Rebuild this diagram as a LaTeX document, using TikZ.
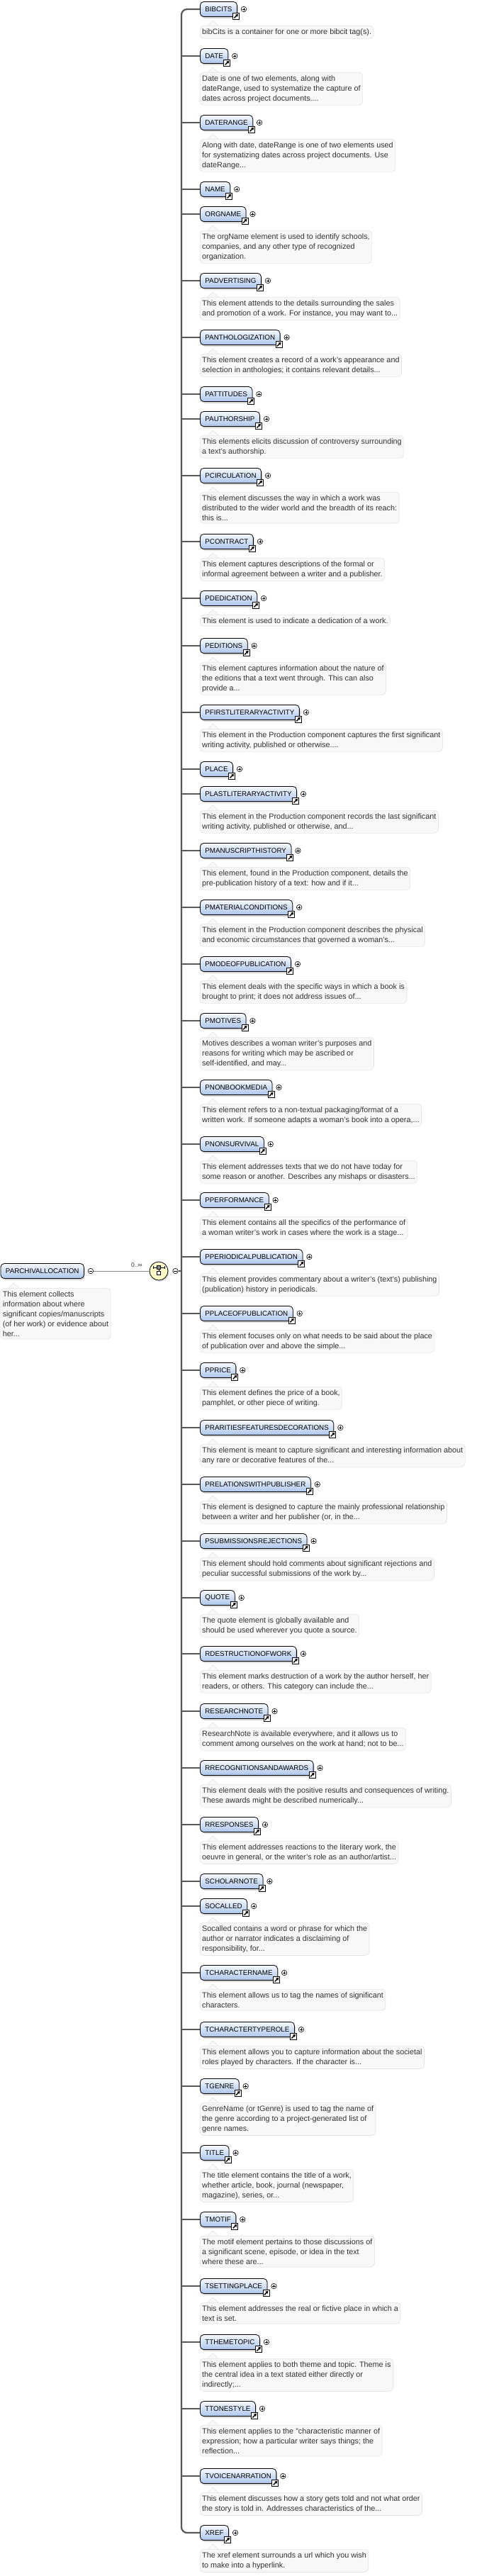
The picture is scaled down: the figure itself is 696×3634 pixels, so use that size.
\documentclass[tikz,border=0pt]{standalone}
\usepackage{fontspec}
\setmainfont{Liberation Sans}
\usetikzlibrary{shadows,arrows.meta}
\definecolor{elemtop}{RGB}{246,249,254}
\definecolor{elembot}{RGB}{172,197,236}
\definecolor{docfill}{RGB}{248,248,248}
\definecolor{docline}{RGB}{216,216,216}
\definecolor{doctext}{RGB}{50,50,50}
\definecolor{wire}{RGB}{88,88,88}
\definecolor{choicefill}{RGB}{255,250,200}
\begin{document}
\begin{tikzpicture}[x=1pt, y=1pt,
  elem/.style={draw, line width=0.8pt, rounded corners=5pt, top color=elemtop, bottom color=elembot, drop shadow={shadow xshift=1.5pt, shadow yshift=-2.5pt, fill=black!30}, anchor=west, minimum height=21pt, inner xsep=7pt, font=\fontsize{9.8pt}{12pt}\selectfont},
  ref/.style={elem, label={[linkicon, anchor=center, xshift=-2pt, yshift=1pt]south east:{}}, label={[pluscirc, xshift=5pt]east:{}}},
  linkicon/.style={draw, fill=white, line width=0.7pt, sharp corners, minimum size=9pt, inner sep=0pt, path picture={\draw[line width=1.4pt, -{Triangle[length=3.5pt, width=4.2pt]}] ([shift={(2pt,2pt)}]path picture bounding box.south west) -- ([shift={(-1.4pt,-1.4pt)}]path picture bounding box.north east);}},
  pluscirc/.style={circle, draw, fill=white, line width=0.6pt, minimum size=7.5pt, inner sep=0pt, path picture={\draw[line width=0.6pt] ([xshift=-2.2pt]path picture bounding box.center) -- ([xshift=2.2pt]path picture bounding box.center) ([yshift=-2.2pt]path picture bounding box.center) -- ([yshift=2.2pt]path picture bounding box.center);}},
  minuscirc/.style={circle, draw, fill=white, line width=0.6pt, minimum size=7.5pt, inner sep=0pt, path picture={\draw[line width=0.6pt] ([xshift=-2.2pt]path picture bounding box.center) -- ([xshift=2.2pt]path picture bounding box.center);}},
  desc/.style={draw=docline, fill=docfill, rounded corners=5pt, align=left, anchor=north west, text=doctext, inner xsep=3pt, inner ysep=4pt, font=\fontsize{10.8pt}{14pt}\selectfont,
    append after command={\pgfextra{
      \fill[docfill, sharp corners] ([xshift=11pt, yshift=-0.7pt]\tikzlastnode.north west) -- ++(7.5pt,7pt) -- ++(7.5pt,-7pt) -- cycle;
      \draw[docline, sharp corners] ([xshift=11pt]\tikzlastnode.north west) -- ++(7.5pt,7pt) -- ++(7.5pt,-7pt);}}},
  choicenode/.style={circle, draw, line width=0.8pt, fill=choicefill, minimum size=26pt, inner sep=0pt, drop shadow={shadow xshift=1.5pt, shadow yshift=-2pt, fill=black!30},
    path picture={
      \draw[line width=0.7pt] ([shift={(-8pt,5pt)}]path picture bounding box.center) -- ([shift={(8pt,5pt)}]path picture bounding box.center);
      \draw[line width=0.7pt] ([shift={(-8pt,3.3pt)}]path picture bounding box.center) -- ([shift={(-8pt,6.7pt)}]path picture bounding box.center);
      \draw[line width=0.7pt] ([shift={(8pt,3.3pt)}]path picture bounding box.center) -- ([shift={(8pt,6.7pt)}]path picture bounding box.center);
      \draw[line width=0.7pt] ([shift={(0pt,5pt)}]path picture bounding box.center) -- ([shift={(0pt,0pt)}]path picture bounding box.center);
      \draw[line width=0.6pt, fill=black!45] ([shift={(-2.5pt,2.5pt)}]path picture bounding box.center) rectangle ([shift={(2.5pt,7.5pt)}]path picture bounding box.center);
      \draw[line width=0.6pt, fill=white] ([shift={(-2.5pt,-5pt)}]path picture bounding box.center) rectangle ([shift={(2.5pt,0pt)}]path picture bounding box.center);}},
  branch/.style={draw=wire, line width=2.2pt},
  thinwire/.style={draw=black!45, line width=0.7pt},
  mult/.style={font=\fontsize{8.5pt}{10pt}\selectfont, text=black!80}]
  \useasboundingbox (0,0) rectangle (696,-3634);
  \node[elem, label={[minuscirc, name=pmin, xshift=5pt]east:{}}] (parchivallocation) at (0.6,-1793) {PARCHIVALLOCATION};
  \node[desc] (parchivallocation-doc) at (0.6,-1817) {This element collects\\information about where\\significant copies/manuscripts\\(of her work) or evidence about\\her...};
  \node[choicenode, label={[minuscirc, name=cmin, xshift=6pt]east:{}}] (choice) at (224,-1793) {};
  \node[mult] (card) at (193,-1785) {0..∞};
  \coordinate (spine) at (256,-1793);
  \draw[thinwire] (pmin) -- (choice);
  \draw[branch] (cmin) -- (spine);

  \node[ref] (bibcits) at (282,-13) {BIBCITS};
  \node[desc] (bibcits-doc) at (282,-36) {bibCits is a container for one or more bibcit tag(s).};
  \node[ref] (date) at (282,-79) {DATE};
  \node[desc] (date-doc) at (282,-102) {Date is one of two elements, along with\\dateRange, used to systematize the capture of\\dates across project documents....};
  \node[ref] (daterange) at (282,-173) {DATERANGE};
  \node[desc] (daterange-doc) at (282,-196) {Along with date, dateRange is one of two elements used\\for systematizing dates across project documents. Use\\dateRange...};
  \node[ref] (name) at (282,-267) {NAME};
  \node[ref] (orgname) at (282,-302) {ORGNAME};
  \node[desc] (orgname-doc) at (282,-325) {The orgName element is used to identify schools,\\companies, and any other type of recognized\\organization.};
  \node[ref] (padvertising) at (282,-396) {PADVERTISING};
  \node[desc] (padvertising-doc) at (282,-419) {This element attends to the details surrounding the sales\\and promotion of a work. For instance, you may want to...};
  \node[ref] (panthologization) at (282,-476) {PANTHOLOGIZATION};
  \node[desc] (panthologization-doc) at (282,-499) {This element creates a record of a work's appearance and\\selection in anthologies; it contains relevant details...};
  \node[ref] (pattitudes) at (282,-556) {PATTITUDES};
  \node[ref] (pauthorship) at (282,-591) {PAUTHORSHIP};
  \node[desc] (pauthorship-doc) at (282,-614) {This elements elicits discussion of controversy surrounding\\a text's authorship.};
  \node[ref] (pcirculation) at (282,-671) {PCIRCULATION};
  \node[desc] (pcirculation-doc) at (282,-694) {This element discusses the way in which a work was\\distributed to the wider world and the breadth of its reach:\\this is...};
  \node[ref] (pcontract) at (282,-764) {PCONTRACT};
  \node[desc] (pcontract-doc) at (282,-787) {This element captures descriptions of the formal or\\informal agreement between a writer and a publisher.};
  \node[ref] (pdedication) at (282,-844) {PDEDICATION};
  \node[desc] (pdedication-doc) at (282,-867) {This element is used to indicate a dedication of a work.};
  \node[ref] (peditions) at (282,-911) {PEDITIONS};
  \node[desc] (peditions-doc) at (282,-934) {This element captures information about the nature of\\the editions that a text went through. This can also\\provide a...};
  \node[ref] (pfirstliteraryactivity) at (282,-1005) {PFIRSTLITERARYACTIVITY};
  \node[desc] (pfirstliteraryactivity-doc) at (282,-1028) {This element in the Production component captures the first significant\\writing activity, published or otherwise....};
  \node[ref] (place) at (282,-1085) {PLACE};
  \node[ref] (plastliteraryactivity) at (282,-1120) {PLASTLITERARYACTIVITY};
  \node[desc] (plastliteraryactivity-doc) at (282,-1143) {This element in the Production component records the last significant\\writing activity, published or otherwise, and...};
  \node[ref] (pmanuscripthistory) at (282,-1200) {PMANUSCRIPTHISTORY};
  \node[desc] (pmanuscripthistory-doc) at (282,-1223) {This element, found in the Production component, details the\\pre-publication history of a text: how and if it...};
  \node[ref] (pmaterialconditions) at (282,-1280) {PMATERIALCONDITIONS};
  \node[desc] (pmaterialconditions-doc) at (282,-1303) {This element in the Production component describes the physical\\and economic circumstances that governed a woman's...};
  \node[ref] (pmodeofpublication) at (282,-1360) {PMODEOFPUBLICATION};
  \node[desc] (pmodeofpublication-doc) at (282,-1383) {This element deals with the specific ways in which a book is\\brought to print; it does not address issues of...};
  \node[ref] (pmotives) at (282,-1440) {PMOTIVES};
  \node[desc] (pmotives-doc) at (282,-1463) {Motives describes a woman writer's purposes and\\reasons for writing which may be ascribed or\\self-identified, and may...};
  \node[ref] (pnonbookmedia) at (282,-1534) {PNONBOOKMEDIA};
  \node[desc] (pnonbookmedia-doc) at (282,-1557) {This element refers to a non-textual packaging/format of a\\written work. If someone adapts a woman's book into a opera,...};
  \node[ref] (pnonsurvival) at (282,-1614) {PNONSURVIVAL};
  \node[desc] (pnonsurvival-doc) at (282,-1637) {This element addresses texts that we do not have today for\\some reason or another. Describes any mishaps or disasters...};
  \node[ref] (pperformance) at (282,-1693) {PPERFORMANCE};
  \node[desc] (pperformance-doc) at (282,-1716) {This element contains all the specifics of the performance of\\a woman writer's work in cases where the work is a stage...};
  \node[ref] (pperiodicalpublication) at (282,-1773) {PPERIODICALPUBLICATION};
  \node[desc] (pperiodicalpublication-doc) at (282,-1796) {This element provides commentary about a writer's (text's) publishing\\(publication) history in periodicals.};
  \node[ref] (pplaceofpublication) at (282,-1853) {PPLACEOFPUBLICATION};
  \node[desc] (pplaceofpublication-doc) at (282,-1876) {This element focuses only on what needs to be said about the place\\of publication over and above the simple...};
  \node[ref] (pprice) at (282,-1933) {PPRICE};
  \node[desc] (pprice-doc) at (282,-1956) {This element defines the price of a book,\\pamphlet, or other piece of writing.};
  \node[ref] (praritiesfeaturesdecorations) at (282,-2014) {PRARITIESFEATURESDECORATIONS};
  \node[desc] (praritiesfeaturesdecorations-doc) at (282,-2037) {This element is meant to capture significant and interesting information about\\any rare or decorative features of the...};
  \node[ref] (prelationswithpublisher) at (282,-2094) {PRELATIONSWITHPUBLISHER};
  \node[desc] (prelationswithpublisher-doc) at (282,-2117) {This element is designed to capture the mainly professional relationship\\between a writer and her publisher (or, in the...};
  \node[ref] (psubmissionsrejections) at (282,-2174) {PSUBMISSIONSREJECTIONS};
  \node[desc] (psubmissionsrejections-doc) at (282,-2197) {This element should hold comments about significant rejections and\\peculiar successful submissions of the work by...};
  \node[ref] (quote) at (282,-2254) {QUOTE};
  \node[desc] (quote-doc) at (282,-2277) {The quote element is globally available and\\should be used wherever you quote a source.};
  \node[ref] (rdestructionofwork) at (282,-2333) {RDESTRUCTIONOFWORK};
  \node[desc] (rdestructionofwork-doc) at (282,-2356) {This element marks destruction of a work by the author herself, her\\readers, or others. This category can include the...};
  \node[ref] (researchnote) at (282,-2414) {RESEARCHNOTE};
  \node[desc] (researchnote-doc) at (282,-2437) {ResearchNote is available everywhere, and it allows us to\\comment among ourselves on the work at hand; not to be...};
  \node[ref] (rrecognitionsandawards) at (282,-2494) {RRECOGNITIONSANDAWARDS};
  \node[desc] (rrecognitionsandawards-doc) at (282,-2517) {This element deals with the positive results and consequences of writing.\\These awards might be described numerically...};
  \node[ref] (rresponses) at (282,-2574) {RRESPONSES};
  \node[desc] (rresponses-doc) at (282,-2597) {This element addresses reactions to the literary work, the\\oeuvre in general, or the writer's role as an author/artist...};
  \node[ref] (scholarnote) at (282,-2654) {SCHOLARNOTE};
  \node[ref] (socalled) at (282,-2689) {SOCALLED};
  \node[desc] (socalled-doc) at (282,-2712) {Socalled contains a word or phrase for which the\\author or narrator indicates a disclaiming of\\responsibility, for...};
  \node[ref] (tcharactername) at (282,-2783) {TCHARACTERNAME};
  \node[desc] (tcharactername-doc) at (282,-2806) {This element allows us to tag the names of significant\\characters.};
  \node[ref] (tcharactertyperole) at (282,-2863) {TCHARACTERTYPEROLE};
  \node[desc] (tcharactertyperole-doc) at (282,-2886) {This element allows you to capture information about the societal\\roles played by characters. If the character is...};
  \node[ref] (tgenre) at (282,-2943) {TGENRE};
  \node[desc] (tgenre-doc) at (282,-2966) {GenreName (or tGenre) is used to tag the name of\\the genre according to a project-generated list of\\genre names.};
  \node[ref] (title) at (282,-3037) {TITLE};
  \node[desc] (title-doc) at (282,-3060) {The title element contains the title of a work,\\whether article, book, journal (newspaper,\\magazine), series, or...};
  \node[ref] (tmotif) at (282,-3131) {TMOTIF};
  \node[desc] (tmotif-doc) at (282,-3154) {The motif element pertains to those discussions of\\a significant scene, episode, or idea in the text\\where these are...};
  \node[ref] (tsettingplace) at (282,-3225) {TSETTINGPLACE};
  \node[desc] (tsettingplace-doc) at (282,-3248) {This element addresses the real or fictive place in which a\\text is set.};
  \node[ref] (tthemetopic) at (282,-3304) {TTHEMETOPIC};
  \node[desc] (tthemetopic-doc) at (282,-3327) {This element applies to both theme and topic. Theme is\\the central idea in a text stated either directly or\\indirectly;...};
  \node[ref] (ttonestyle) at (282,-3398) {TTONESTYLE};
  \node[desc] (ttonestyle-doc) at (282,-3421) {This element applies to the "characteristic manner of\\expression; how a particular writer says things; the\\reflection...};
  \node[ref] (tvoicenarration) at (282,-3493) {TVOICENARRATION};
  \node[desc] (tvoicenarration-doc) at (282,-3516) {This element discusses how a story gets told and not what order\\the story is told in. Addresses characteristics of the...};
  \node[ref] (xref) at (282,-3573) {XREF};
  \node[desc] (xref-doc) at (282,-3596) {The xref element surrounds a url which you wish\\to make into a hyperlink.};

  \draw[branch, rounded corners=8pt] (spine) |- (bibcits.west);
  \draw[branch] (spine) |- (date.west);
  \draw[branch] (spine) |- (daterange.west);
  \draw[branch] (spine) |- (name.west);
  \draw[branch] (spine) |- (orgname.west);
  \draw[branch] (spine) |- (padvertising.west);
  \draw[branch] (spine) |- (panthologization.west);
  \draw[branch] (spine) |- (pattitudes.west);
  \draw[branch] (spine) |- (pauthorship.west);
  \draw[branch] (spine) |- (pcirculation.west);
  \draw[branch] (spine) |- (pcontract.west);
  \draw[branch] (spine) |- (pdedication.west);
  \draw[branch] (spine) |- (peditions.west);
  \draw[branch] (spine) |- (pfirstliteraryactivity.west);
  \draw[branch] (spine) |- (place.west);
  \draw[branch] (spine) |- (plastliteraryactivity.west);
  \draw[branch] (spine) |- (pmanuscripthistory.west);
  \draw[branch] (spine) |- (pmaterialconditions.west);
  \draw[branch] (spine) |- (pmodeofpublication.west);
  \draw[branch] (spine) |- (pmotives.west);
  \draw[branch] (spine) |- (pnonbookmedia.west);
  \draw[branch] (spine) |- (pnonsurvival.west);
  \draw[branch] (spine) |- (pperformance.west);
  \draw[branch] (spine) |- (pperiodicalpublication.west);
  \draw[branch] (spine) |- (pplaceofpublication.west);
  \draw[branch] (spine) |- (pprice.west);
  \draw[branch] (spine) |- (praritiesfeaturesdecorations.west);
  \draw[branch] (spine) |- (prelationswithpublisher.west);
  \draw[branch] (spine) |- (psubmissionsrejections.west);
  \draw[branch] (spine) |- (quote.west);
  \draw[branch] (spine) |- (rdestructionofwork.west);
  \draw[branch] (spine) |- (researchnote.west);
  \draw[branch] (spine) |- (rrecognitionsandawards.west);
  \draw[branch] (spine) |- (rresponses.west);
  \draw[branch] (spine) |- (scholarnote.west);
  \draw[branch] (spine) |- (socalled.west);
  \draw[branch] (spine) |- (tcharactername.west);
  \draw[branch] (spine) |- (tcharactertyperole.west);
  \draw[branch] (spine) |- (tgenre.west);
  \draw[branch] (spine) |- (title.west);
  \draw[branch] (spine) |- (tmotif.west);
  \draw[branch] (spine) |- (tsettingplace.west);
  \draw[branch] (spine) |- (tthemetopic.west);
  \draw[branch] (spine) |- (ttonestyle.west);
  \draw[branch] (spine) |- (tvoicenarration.west);
  \draw[branch, rounded corners=8pt] (spine) |- (xref.west);
\end{tikzpicture}
\end{document}
